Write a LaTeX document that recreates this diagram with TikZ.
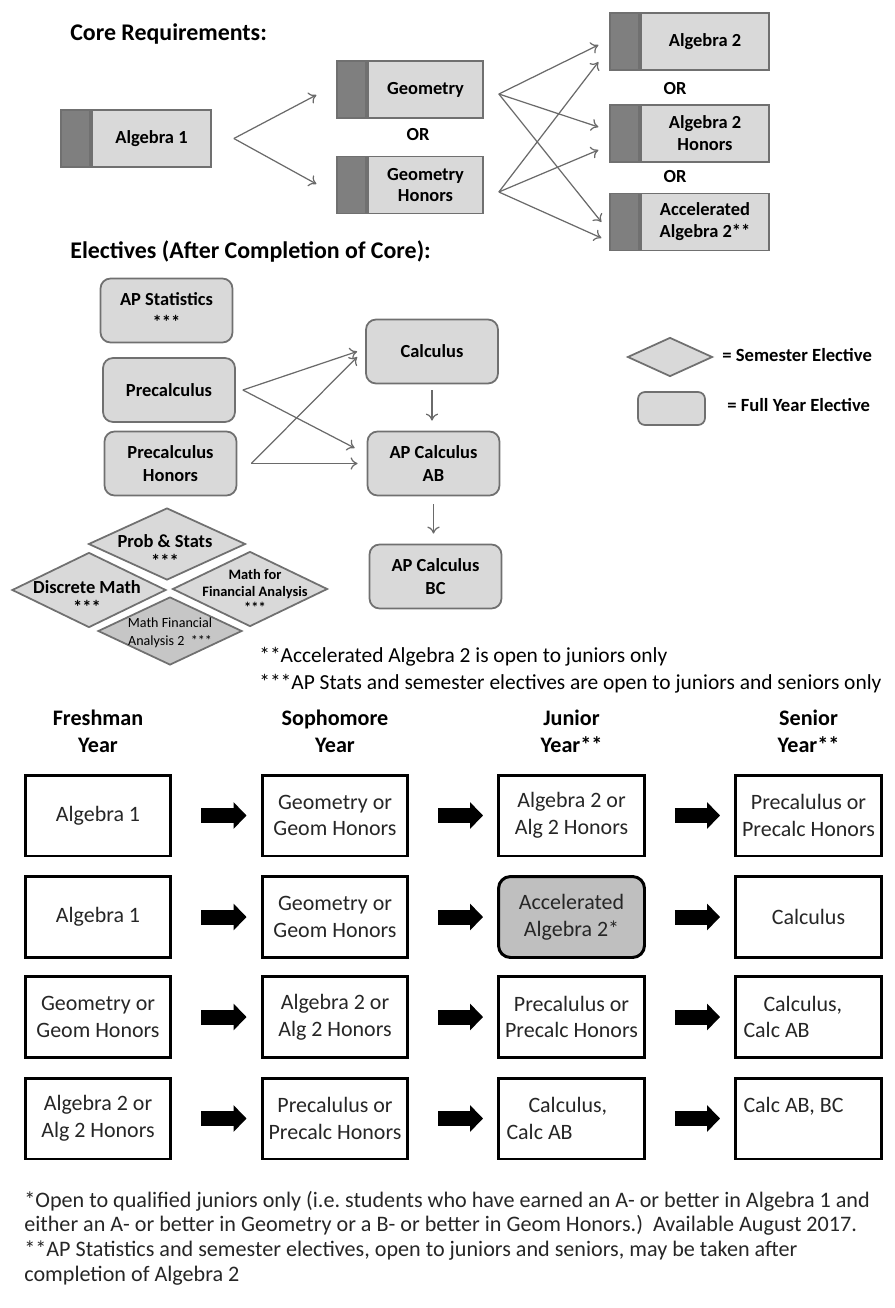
\documentclass[tikz,border=0pt]{standalone}
\usepackage{fontspec}
\setmainfont{Carlito}
\usepackage{tikz}
\usetikzlibrary{arrows.meta,shapes.geometric,positioning,calc}
\definecolor{boxfill}{HTML}{D9D9D9}
\definecolor{stripfill}{HTML}{7F7F7F}
\definecolor{edge}{HTML}{707070}
\definecolor{arrowline}{HTML}{6A6A6A}
\definecolor{darkfill}{HTML}{C6C6C6}
\definecolor{accfill}{HTML}{BFBFBF}
\definecolor{ink}{HTML}{262626}
\frenchspacing

\begin{document}
\begin{tikzpicture}[x=0.02cm,y=-0.02cm,
  title/.style={anchor=west,inner sep=0pt,font=\fontsize{13.6}{16}\selectfont\bfseries},
  core/.style={draw=edge,fill=boxfill,line width=1pt,minimum height=1.14cm,inner sep=0pt,align=center,font=\fontsize{10.5}{12.5}\selectfont\bfseries},
  strip/.style={draw=edge,fill=stripfill,line width=1pt,minimum width=0.58cm,minimum height=1.14cm,inner sep=0pt},
  ortext/.style={inner sep=0pt,font=\fontsize{10.5}{12.5}\selectfont\bfseries},
  thinarrow/.style={draw=arrowline,line width=0.7pt,-{To[length=4pt,width=7pt]}},
  full/.style={draw=edge,fill=boxfill,line width=1pt,rounded corners=0.2cm,minimum width=2.64cm,minimum height=1.28cm,inner sep=0pt,align=center,font=\fontsize{10.5}{13}\selectfont\bfseries},
  semester/.style={shape=diamond,draw=edge,fill=boxfill,line width=1pt,inner sep=0pt},
  dtext/.style={inner sep=0pt,align=center,font=\fontsize{10.5}{11}\selectfont\bfseries},
  keytext/.style={anchor=west,inner sep=0pt,font=\fontsize{10.6}{12}\selectfont\bfseries},
  note/.style={anchor=west,inner sep=0pt,align=left,font=\fontsize{12.2}{15.3}\selectfont},
  yearhead/.style={inner sep=0pt,align=center,font=\fontsize{12.6}{15.3}\selectfont\bfseries},
  course/.style={draw=black,line width=1.7pt,minimum width=2.92cm,minimum height=1.62cm,align=center,text=ink,font=\fontsize{12.5}{15.3}\selectfont},
  bigarrow/.style={draw=black,line width=0.3cm,-{Triangle[length=0.26cm,width=0.52cm]},shorten <=0.58cm,shorten >=0.28cm},
  foot/.style={anchor=west,inner sep=0pt,align=left,text=ink,font=\fontsize{12.6}{14}\selectfont}]
\useasboundingbox (0,0) rectangle (894,1308);

% core requirements
\node[title] (coretitle) at (70,34) {Core Requirements:};
\node[core,minimum width=2.38cm] (alg1) at (151.5,138.5) {Algebra 1};
\node[strip,left=0pt of alg1] (alg1s) {};
\node[core,minimum width=2.3cm] (geo) at (425.5,89.5) {Geometry};
\node[strip,left=0pt of geo] (geos) {};
\node[core,minimum width=2.3cm] (geoh) at (425.5,185) {Geometry\\Honors};
\node[strip,left=0pt of geoh] (geohs) {};
\node[ortext] (or1) at (418,135) {OR};
\node[core,minimum width=2.56cm] (alg2) at (705,41.5) {Algebra 2};
\node[strip,left=0pt of alg2] (alg2s) {};
\node[core,minimum width=2.56cm] (alg2h) at (705,133.5) {Algebra 2\\Honors};
\node[strip,left=0pt of alg2h] (alg2hs) {};
\node[core,minimum width=2.56cm] (acc) at (705,222) {Accelerated\\Algebra 2**};
\node[strip,left=0pt of acc] (accs) {};
\node[ortext] (or2) at (675,89) {OR};
\node[ortext] (or3) at (675,177) {OR};

\draw[thinarrow] ([xshift=0.44cm]alg1.east) -- ([xshift=-0.4cm,yshift=-0.11cm]geos.west);
\draw[thinarrow] ([xshift=0.44cm]alg1.east) -- ([xshift=-0.4cm,yshift=0.02cm]geohs.west);
\draw[thinarrow] ([xshift=0.3cm,yshift=-0.09cm]geo.east) -- ([xshift=-0.22cm,yshift=-0.07cm]alg2s.west);
\draw[thinarrow] ([xshift=0.3cm,yshift=-0.09cm]geo.east) -- ([xshift=-0.22cm,yshift=0.13cm]alg2hs.west);
\draw[thinarrow] ([xshift=0.3cm,yshift=-0.09cm]geo.east) -- ([xshift=-0.16cm]accs.west);
\draw[thinarrow] ([xshift=0.3cm,yshift=-0.14cm]geoh.east) -- ([xshift=-0.22cm,yshift=-0.41cm]alg2s.west);
\draw[thinarrow] ([xshift=0.3cm,yshift=-0.14cm]geoh.east) -- ([xshift=-0.22cm,yshift=-0.33cm]alg2hs.west);
\draw[thinarrow] ([xshift=0.3cm,yshift=-0.14cm]geoh.east) -- ([xshift=-0.16cm,yshift=-0.32cm]accs.west);

% electives
\node[title] (electitle) at (70,252) {Electives (After Completion of Core):};
\node[full] (apstat) at (166.5,310.5) {AP Statistics\\***};
\node[full] (precalc) at (169,390) {Precalculus};
\node[full] (precalch) at (170.5,463.5) {Precalculus\\Honors};
\node[full] (calc) at (432,351.5) {Calculus};
\node[full] (apab) at (433.5,463.5) {AP Calculus\\AB};
\node[full] (apbc) at (435.5,576.5) {AP Calculus\\BC};

\draw[thinarrow] ([xshift=0.14cm]precalc.east) -- ([xshift=-0.16cm]calc.west);
\draw[thinarrow] ([xshift=0.14cm]precalc.east) -- ([xshift=-0.24cm,yshift=0.31cm]apab.west);
\draw[thinarrow] ([xshift=0.28cm]precalch.east) -- ([xshift=-0.16cm,yshift=-0.11cm]calc.west);
\draw[thinarrow] ([xshift=0.28cm]precalch.east) -- ([xshift=-0.18cm]apab.west);
\draw[thinarrow,shorten <=0.12cm,shorten >=0.2cm] (calc.south) -- (calc.south |- apab.north);
\draw[thinarrow,shorten <=0.16cm,shorten >=0.2cm] (apab.south) -- (apab.south |- apbc.north);

\node[semester,minimum width=3.14cm,minimum height=1.44cm] (probd) at (167,544) {};
\node[dtext] (prob) at (165,551) {Prob \& Stats\\***};
\node[semester,minimum width=3.08cm,minimum height=1.5cm] (discd) at (89,590) {};
\node[dtext] (disc) at (87,597) {Discrete Math\\***};
\node[semester,minimum width=3.1cm,minimum height=1.5cm] (mfad) at (250,589) {};
\node[dtext,font=\fontsize{8.2}{9.3}\selectfont\bfseries] (mfa) at (255,591) {Math for\\Financial Analysis\\***};
\node[semester,fill=darkfill,minimum width=2.88cm,minimum height=1.36cm] (mfa2d) at (170,631) {};
\node[dtext,font=\fontsize{8}{10}\selectfont] (mfa2) at (170,633) {Math Financial\\Analysis 2\ \ ***};

% legend
\node[semester,minimum width=1.7cm,minimum height=0.78cm] (semkey) at (670,357) {};
\node[keytext] (semlab) at (722,355) {= Semester Elective};
\node[full,minimum width=1.34cm,minimum height=0.66cm,rounded corners=0.14cm] (fullkey) at (671.5,408.5) {};
\node[keytext] (fulllab) at (727,405) {= Full Year Elective};

\node[note] (notes) at (259,670.5) {**Accelerated Algebra 2 is open to juniors only\\***AP Stats and semester electives are open to juniors and seniors only};

% four year plans
\node[yearhead] (fresh) at (98,731.5) {Freshman\\Year};
\node[yearhead] (soph) at (335,731.5) {Sophomore\\Year};
\node[yearhead] (jun) at (571.5,731.5) {Junior\\Year**};
\node[yearhead] (sen) at (808.5,731.5) {Senior\\Year**};

\node[course] (r1c1) at (98,815.5) {Algebra 1};
\node[course] (r1c2) at (335,815.5) {Geometry or\\Geom Honors};
\node[course] (r1c3) at (571.5,815.5) {Algebra 2 or\\Alg 2 Honors};
\node[course] (r1c4) at (808.5,815.5) {Precalulus or\\Precalc Honors};

\node[course] (r2c1) at (98,917) {Algebra 1};
\node[course] (r2c2) at (335,917) {Geometry or\\Geom Honors};
\node[course,fill=accfill,rounded corners=0.24cm] (r2c3) at (571.5,917) {Accelerated\\Algebra 2*};
\node[course] (r2c4) at (808.5,917) {Calculus};

\node[course] (r3c1) at (98,1017) {Geometry or\\Geom Honors};
\node[course] (r3c2) at (335,1017) {Algebra 2 or\\Alg 2 Honors};
\node[course] (r3c3) at (571.5,1017) {Precalulus or\\Precalc Honors};
\node[course,text width=2.6cm,align=flush left] (r3c4) at (808.5,1017) {\hspace*{0.4cm}Calculus,\\Calc AB};

\node[course] (r4c1) at (98,1118.5) {Algebra 2 or\\Alg 2 Honors};
\node[course] (r4c2) at (335,1118.5) {Precalulus or\\Precalc Honors};
\node[course,text width=2.6cm,align=flush left] (r4c3) at (571.5,1118.5) {\hspace*{0.44cm}Calculus,\\Calc AB};
\node[course,text width=2.6cm,align=flush left] (r4c4) at (808.5,1118.5) {Calc AB, BC\\\mbox{}};

\draw[bigarrow] (r1c1) -- (r1c2);
\draw[bigarrow] (r1c2) -- (r1c3);
\draw[bigarrow] (r1c3) -- (r1c4);
\draw[bigarrow] (r2c1) -- (r2c2);
\draw[bigarrow] (r2c2) -- (r2c3);
\draw[bigarrow] (r2c3) -- (r2c4);
\draw[bigarrow] (r3c1) -- (r3c2);
\draw[bigarrow] (r3c2) -- (r3c3);
\draw[bigarrow] (r3c3) -- (r3c4);
\draw[bigarrow] (r4c1) -- (r4c2);
\draw[bigarrow] (r4c2) -- (r4c3);
\draw[bigarrow] (r4c3) -- (r4c4);

\node[foot] (footnotes) at (24,1238) {*Open to qualified juniors only (i.e. students who have earned an A- or better in Algebra 1 and\\either an A- or better in Geometry or a B- or better in Geom Honors.)\ \ Available August 2017.\\**AP Statistics and semester electives, open to juniors and seniors, may be taken after\\completion of Algebra 2};
\end{tikzpicture}
\end{document}
